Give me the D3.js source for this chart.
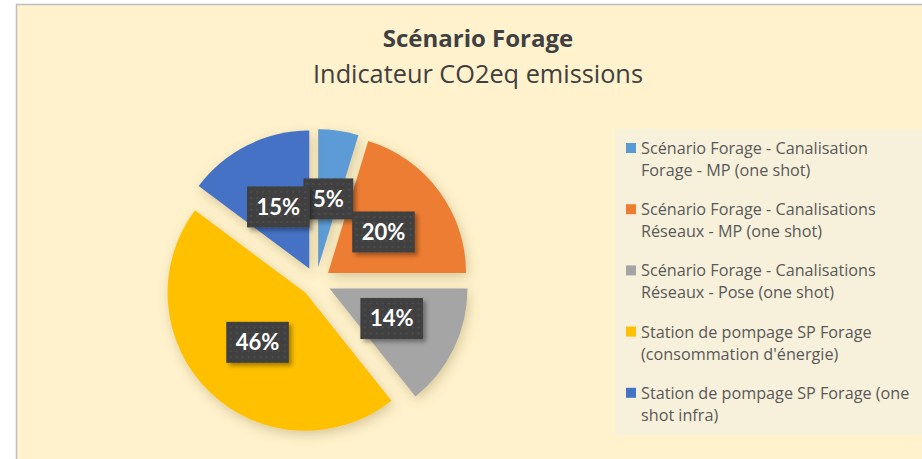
<!DOCTYPE html>
<html>
<head>
<meta charset="utf-8">
<script src="https://cdn.jsdelivr.net/npm/d3@7"></script>
<style>
	html, body { margin: 0; padding: 0; background: #ffffff; }
	svg { display: block; font-family: "Open Sans", Lato, sans-serif; }
</style>
</head>
<body>
<div id="chart"></div>
<script>

var categories = [
	"Scénario Forage - Canalisation Forage - MP (one shot)",
	"Scénario Forage - Canalisations Réseaux - MP (one shot)",
	"Scénario Forage - Canalisations Réseaux - Pose (one shot)",
	"Station de pompage SP Forage (consommation d'énergie)",
	"Station de pompage SP Forage (one shot infra)"
];

var shares = [4.7, 20.3, 14.3, 45.9, 14.8];

var sliceColors = ["#5B9BD5", "#ED7D31", "#A5A5A5", "#FFC000", "#4472C4"];

var titleText = "Scénario Forage";
var subtitleText = "Indicateur CO2eq emissions";


var CHART = (function(CHART, undefined)
{
	var width = 922;
	var height = 459;

	CHART.init = function()
	{
		var svg = d3.select("#chart").append("svg")
		.attr("width", width)
		.attr("height", height);

		CHART.makeDefs(svg);

		// chart area
		svg.append("rect")
		.attr("x", 16.5)
		.attr("y", 4.5)
		.attr("width", 940)
		.attr("height", 480)
		.attr("fill", "#FFF2CC")
		.attr("stroke", "#BFBFBF")
		.attr("stroke-width", 1.5);

		svg.append("text")
		.attr("x", 478)
		.attr("y", 47)
		.attr("text-anchor", "middle")
		.attr("font-size", 24)
		.attr("font-weight", "bold")
		.attr("fill", "#404040")
		.text(titleText);

		svg.append("text")
		.attr("x", 478)
		.attr("y", 83)
		.attr("text-anchor", "middle")
		.attr("font-size", 25.3)
		.attr("fill", "#404040")
		.text(subtitleText);

		CHART.drawPie(svg);
		CHART.drawLegend(svg);
	}


	CHART.makeDefs = function(svg)
	{
		var defs = svg.append("defs");

		var sh = defs.append("filter")
		.attr("id", "sliceShadow")
		.attr("x", "-30%").attr("y", "-30%")
		.attr("width", "160%").attr("height", "160%");

		sh.append("feDropShadow")
		.attr("dx", 2)
		.attr("dy", 4)
		.attr("stdDeviation", 6)
		.attr("flood-color", "#7a6428")
		.attr("flood-opacity", 0.3);

		var bs = defs.append("filter")
		.attr("id", "boxShadow")
		.attr("x", "-30%").attr("y", "-30%")
		.attr("width", "160%").attr("height", "160%");

		bs.append("feDropShadow")
		.attr("dx", 3)
		.attr("dy", 3)
		.attr("stdDeviation", 2)
		.attr("flood-color", "#000000")
		.attr("flood-opacity", 0.35);

		var pat = defs.append("pattern")
		.attr("id", "dots")
		.attr("patternUnits", "userSpaceOnUse")
		.attr("width", 6)
		.attr("height", 6);

		pat.append("rect")
		.attr("width", 6)
		.attr("height", 6)
		.attr("fill", "#3F3F3F");

		pat.append("rect")
		.attr("x", 2)
		.attr("y", 2)
		.attr("width", 2)
		.attr("height", 2)
		.attr("fill", "#4D4D4D");
	}


	CHART.drawPie = function(svg)
	{
		var cx = 316;
		var cy = 282;
		var radius = 138;
		var explode = 15;

		var total = d3.sum(shares);

		var pie = d3.pie()
		.sort(null)
		.value(function(d) { return d; });

		var arc = d3.arc()
		.innerRadius(0)
		.outerRadius(radius);

		var arcs = pie(shares);

		var offset = function(d, dist)
		{
			var a = (d.startAngle + d.endAngle) / 2;
			return [Math.sin(a) * dist, -Math.cos(a) * dist];
		}

		var g = svg.append("g")
		.attr("transform", "translate(" + cx + "," + cy + ")");

		g.append("g")
		.attr("class", "slices")
		.selectAll("path")
		.data(arcs)
		.enter()
		.append("path")
		.attr("d", arc)
		.attr("fill", function(d, i) { return sliceColors[i]; })
		.attr("filter", "url(#sliceShadow)")
		.attr("transform", function(d)
		{
			var o = offset(d, explode);
			return "translate(" + o[0] + "," + o[1] + ")";
		});

		var labels = g.append("g")
		.attr("class", "labels")
		.selectAll("g")
		.data(arcs)
		.enter()
		.append("g")
		.attr("transform", function(d)
		{
			var c = arc.centroid(d);
			var o = offset(d, explode);
			return "translate(" + (c[0] + o[0]) + "," + (c[1] + o[1]) + ")";
		});

		labels.append("rect")
		.attr("class", "labelBox")
		.attr("fill", "url(#dots)")
		.attr("filter", "url(#boxShadow)");

		labels.append("text")
		.attr("text-anchor", "middle")
		.attr("y", 8)
		.attr("font-family", "Lato, sans-serif")
		.attr("font-size", 22)
		.attr("font-weight", "bold")
		.attr("fill", "#ffffff")
		.text(function(d) { return Math.round(d.value / total * 100) + "%"; });

		labels.each(function()
		{
			var grp = d3.select(this);
			var w = grp.select("text").node().getComputedTextLength() + 19;
			grp.select("rect")
			.attr("x", -w / 2)
			.attr("y", -20.5)
			.attr("width", w)
			.attr("height", 41);
		});
	}


	CHART.wrap = function(textSel, str, maxWidth, lineHeight)
	{
		var words = str.split(" ");
		var line = [];
		var tspan = textSel.append("tspan").attr("x", 0).attr("dy", 0);

		for (var i = 0; i < words.length; i++)
		{
			line.push(words[i]);
			tspan.text(line.join(" "));
			if (tspan.node().getComputedTextLength() > maxWidth && line.length > 1)
			{
				line.pop();
				tspan.text(line.join(" "));
				line = [words[i]];
				tspan = textSel.append("tspan")
				.attr("x", 0)
				.attr("dy", lineHeight)
				.text(words[i]);
			}
		}
	}


	CHART.drawLegend = function(svg)
	{
		svg.append("rect")
		.attr("x", 615)
		.attr("y", 129)
		.attr("width", 330)
		.attr("height", 306)
		.attr("fill", "#F7F0DA");

		var items = svg.append("g")
		.attr("class", "legend")
		.selectAll("g")
		.data(categories)
		.enter()
		.append("g")
		.attr("transform", function(d, i) { return "translate(626," + (154 + i * 61.2) + ")"; });

		items.append("rect")
		.attr("x", 0)
		.attr("y", -11)
		.attr("width", 10)
		.attr("height", 10)
		.attr("fill", function(d, i) { return sliceColors[i]; });

		items.append("text")
		.attr("transform", "translate(15,0)")
		.attr("font-size", 16.2)
		.attr("fill", "#595959")
		.each(function(d)
		{
			CHART.wrap(d3.select(this), d, 277, 22);
		});
	}


	return CHART;

}(CHART || {}));


CHART.init();

</script>
</body>
</html>
